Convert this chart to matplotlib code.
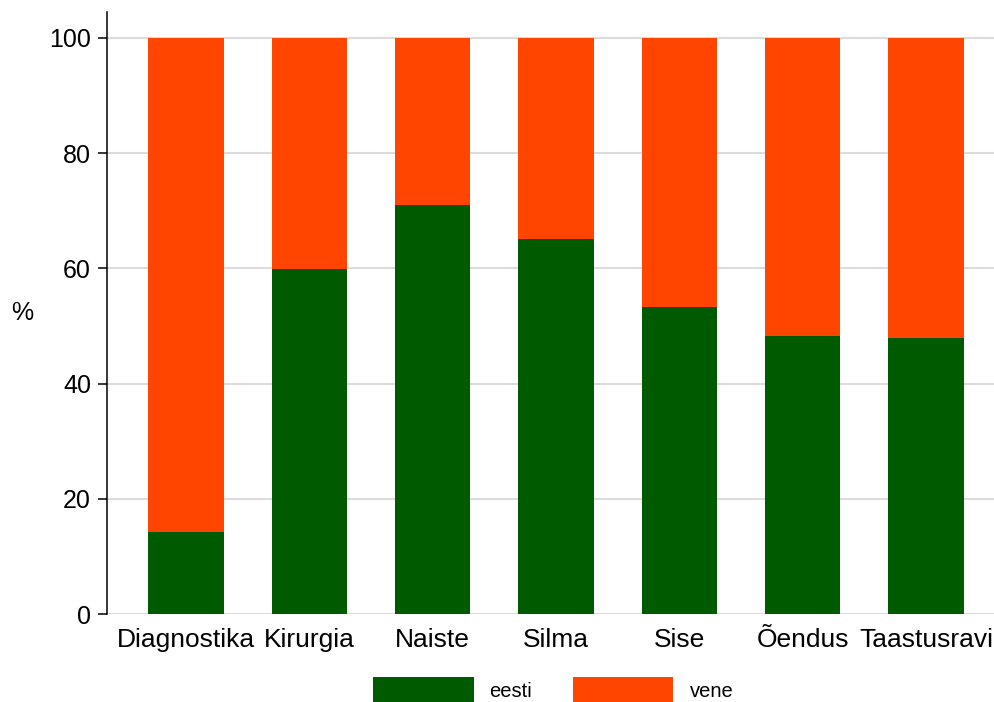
import numpy as np
import matplotlib.pyplot as plt

plt.rcParams['font.family'] = ['Liberation Sans', 'DejaVu Sans']

# data
categories = ["Diagnostika", "Kirurgia", "Naiste", "Silma", "Sise", "Õendus", "Taastusravi"]
eesti = [14.2, 59.9, 71.0, 65.1, 53.3, 48.3, 47.9]
vene = [100 - v for v in eesti]

green = "#005a00"
orange = "#ff4500"

fig = plt.figure(figsize=(9.95, 7.02), dpi=100)
ax = fig.add_axes([107 / 995, 88 / 702, 888 / 995, 602 / 702])

x = np.arange(len(categories))
w = 0.61
ax.bar(x, eesti, width=w, color=green, label="eesti", zorder=2)
ax.bar(x, vene, width=w, bottom=eesti, color=orange, label="vene", zorder=2)

ax.set_xlim(-0.64, 6.56)
ax.set_ylim(0, 104.5)
ax.set_yticks([0, 20, 40, 60, 80, 100])
ax.yaxis.grid(True, color="#dcdcdc", linewidth=1.5, zorder=0)
ax.set_axisbelow(True)

for s in ["top", "right", "bottom"]:
    ax.spines[s].set_visible(False)
ax.spines["left"].set_linewidth(1.1)

ax.set_xticks(x)
ax.set_xticklabels(categories, fontsize=19)
ax.tick_params(axis="x", length=0, pad=10)
ax.tick_params(axis="y", labelsize=18, length=6.5, width=1.1, pad=5)

ax.set_ylabel("%", fontsize=18, rotation=0, labelpad=0, va="center")
ax.yaxis.set_label_coords(-0.095, 0.5)

fig.legend(loc="center", bbox_to_anchor=(553 / 995, 12 / 702), ncol=2,
           frameon=False, fontsize=14.5, borderpad=0, handlelength=5,
           handleheight=1.6, handletextpad=0.8, columnspacing=2.0)

fig.savefig("out.png", dpi=100)
